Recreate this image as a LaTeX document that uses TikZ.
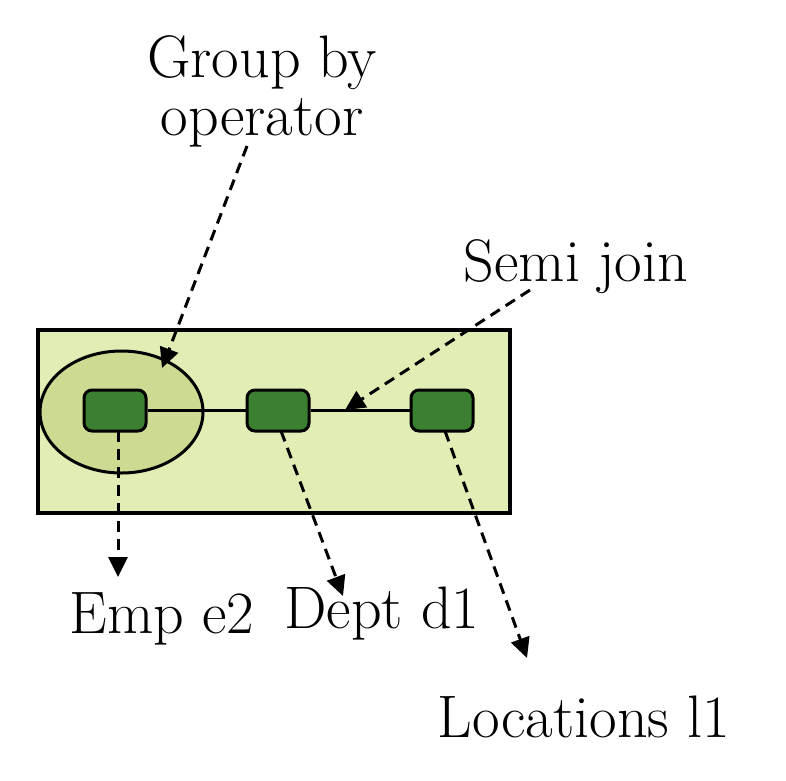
\documentclass[tikz,border=0pt]{standalone}
\usetikzlibrary{shapes.geometric,arrows.meta}
\definecolor{panelfill}{RGB}{224,237,180}
\definecolor{groupfill}{RGB}{204,219,145}
\definecolor{boxfill}{RGB}{59,128,48}
\begin{document}
\begin{tikzpicture}[x=1pt,y=-1pt,
  panel/.style={draw=black,line width=4pt,fill=panelfill},
  groupell/.style={ellipse,draw=black,line width=3pt,fill=groupfill,minimum width=163pt,minimum height=122pt,inner sep=0pt},
  relbox/.style={draw=black,line width=3pt,fill=boxfill,rounded corners=8pt,minimum width=62pt,minimum height=41pt,inner sep=0pt},
  joinline/.style={line width=2.6pt},
  pointer/.style={line width=3pt,dash pattern=on 11pt off 7pt,-{Triangle[length=20pt,width=19pt]}},
  lbl/.style={font=\fontsize{60}{58}\selectfont,anchor=base,inner sep=0pt,align=center}]
\useasboundingbox (0,0) rectangle (786,780);
\path[panel] (38,330) rectangle (510,513);
\node[groupell] (grp) at (121.5,412) {};
\node[relbox] (b1) at (115,410.5) {};
\node[relbox] (b2) at (278,410.5) {};
\node[relbox] (b3) at (442,410.5) {};
\draw[joinline] (b1.east) -- (b2.west);
\draw[joinline] (b2.east) -- (b3.west);
% labels
\node[lbl] (gb) at (262,135) {Group by\\operator};
\node[lbl] (sj) at (576,281) {Semi join};
\node[lbl] (emp) at (162,633) {Emp e2};
\node[lbl] (dept) at (382,628) {Dept d1};
\node[lbl] (loc) at (584,737) {Locations l1};
% pointer coordinates
\coordinate (gbs) at (247,146);
\coordinate (gbt) at (162,368);
\coordinate (sjs) at (530,290);
\coordinate (sjt) at (345,410);
\coordinate (e1) at (118,431);
\coordinate (et) at (118,577);
\coordinate (d1) at (281,431);
\coordinate (dt) at (343,596);
\coordinate (l1) at (445,431);
\coordinate (lt) at (527,658);
\draw[pointer] (gbs) -- (gbt);
\draw[pointer] (sjs) -- (sjt);
\draw[pointer] (e1) -- (et);
\draw[pointer] (d1) -- (dt);
\draw[pointer] (l1) -- (lt);
\end{tikzpicture}
\end{document}
